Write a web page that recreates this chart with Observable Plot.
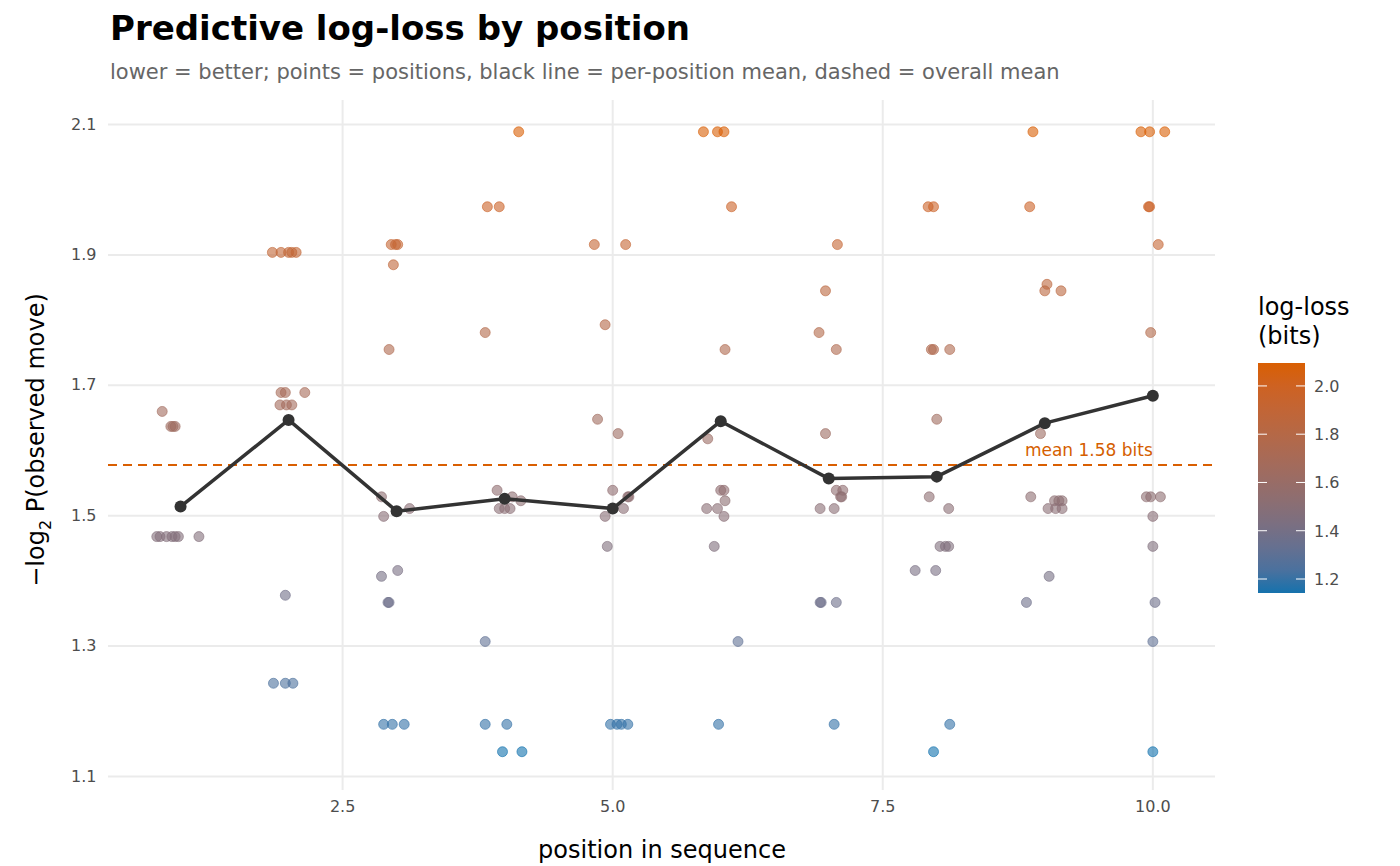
<!DOCTYPE html>
<html><head><meta charset="utf-8">
<script src="https://cdn.jsdelivr.net/npm/d3@7"></script>
<script src="https://cdn.jsdelivr.net/npm/@observablehq/plot@0.6"></script>
<style>
body{margin:0;background:#fff;font-family:"DejaVu Sans",sans-serif;width:1400px;height:866px;position:relative;overflow:hidden}
#t{position:absolute;left:110px;top:8px;font-size:34px;font-weight:bold;color:#000}
#s{position:absolute;left:110px;top:60px;font-size:21px;color:#666}
#p{position:absolute;left:0;top:90px}
#lg{position:absolute;left:1250px;top:285px}
#p svg g[aria-label="x-axis tick label"] text,#p svg g[aria-label="y-axis tick label"] text{font-size:16px}
</style></head><body>
<div id="t">Predictive log-loss by position</div>
<div id="s">lower = better; points = positions, black line = per-position mean, dashed = overall mean</div>
<div id="p"></div><div id="lg"></div>
<script>
const positions=[1,2,3,4,5,6,7,8,9,10];
const means=[1.514,1.647,1.507,1.526,1.511,1.645,1.557,1.560,1.642,1.684];
const overallMean=1.578;
const ptX=[0.83,0.91,0.93,0.95,0.78,0.81,0.87,0.92,0.95,0.98,1.17,
1.85,1.93,2.0,2.03,2.07,1.93,1.97,2.15,1.92,1.98,2.03,1.97,1.86,1.97,2.04,
2.95,2.99,3.01,2.97,2.93,2.86,2.88,3.12,2.86,3.01,2.92,2.93,2.88,2.96,3.07,
4.13,3.84,3.95,3.82,3.93,4.07,4.15,3.95,4.0,4.05,3.82,3.82,4.02,3.98,4.16,
4.83,5.12,4.93,4.86,5.05,5.0,4.93,5.14,5.15,5.1,4.95,4.98,5.04,5.08,5.14,
5.84,5.97,6.03,6.1,6.04,5.88,6.0,6.03,6.04,5.87,5.97,6.03,5.94,6.16,5.98,
7.08,6.97,6.91,7.07,6.97,7.07,7.13,7.11,7.12,6.92,7.05,6.92,6.93,7.07,7.05,
7.92,7.97,7.95,7.97,8.12,8.0,7.93,8.11,8.03,8.08,8.11,7.8,7.99,8.12,7.97,
8.89,8.86,9.02,9.0,9.15,8.96,8.87,9.09,9.13,9.16,9.03,9.1,9.16,9.04,8.83,
9.89,9.97,10.11,9.96,9.97,10.05,9.98,9.94,9.98,10.07,10.0,10.0,10.02,10.0,10.0];
const ptY=[1.66,1.637,1.637,1.637,1.468,1.468,1.468,1.468,1.468,1.468,1.468,
1.904,1.904,1.904,1.904,1.904,1.689,1.689,1.689,1.67,1.67,1.67,1.378,1.243,1.243,1.243,
1.916,1.916,1.916,1.885,1.755,1.529,1.499,1.511,1.407,1.416,1.367,1.367,1.18,1.18,1.18,
2.089,1.974,1.974,1.781,1.539,1.529,1.523,1.511,1.511,1.511,1.307,1.18,1.18,1.138,1.138,
1.916,1.916,1.793,1.648,1.626,1.539,1.499,1.529,1.529,1.511,1.453,1.18,1.18,1.18,1.18,
2.089,2.089,2.089,1.974,1.755,1.618,1.539,1.539,1.523,1.511,1.511,1.499,1.453,1.307,1.18,
1.916,1.845,1.781,1.755,1.626,1.539,1.539,1.529,1.529,1.511,1.511,1.367,1.367,1.367,1.18,
1.974,1.974,1.755,1.755,1.755,1.648,1.529,1.511,1.453,1.453,1.453,1.416,1.416,1.18,1.138,
2.089,1.974,1.855,1.845,1.845,1.626,1.529,1.523,1.523,1.523,1.511,1.511,1.511,1.407,1.367,
2.089,2.089,2.089,1.974,1.974,1.916,1.781,1.529,1.529,1.529,1.499,1.453,1.367,1.307,1.138];
const xTicks=[2.5,5,7.5,10];
const yTicks=[1.1,1.3,1.5,1.7,1.9,2.1];
const legendTicks=[1.2,1.4,1.6,1.8,2.0];

const pts=ptX.map((x,i)=>({x,y:ptY[i]}));
const line=positions.map((p,i)=>({x:p,y:means[i]}));
const cdom=[1.142,2.095];
const colorScale={type:"linear",domain:cdom,range:["#1672ad","#d95f02"],interpolate:"lab"};
const grid="#ebebeb";
const chart=Plot.plot({
 width:1400,height:776,marginLeft:108,marginRight:185,marginTop:10,marginBottom:76,
 style:{fontFamily:"DejaVu Sans, sans-serif",fontSize:"16px",color:"#4d4d4d",background:"#fff"},
 x:{domain:[0.333,10.58],ticks:xTicks,tickFormat:d=>d.toFixed(1),label:null},
 y:{domain:[1.0785,2.137],ticks:yTicks,tickFormat:d=>d.toFixed(1),label:null},
 color:colorScale,
 marks:[
  Plot.gridX(xTicks,{stroke:grid,strokeOpacity:1,strokeWidth:2}),
  Plot.gridY(yTicks,{stroke:grid,strokeOpacity:1,strokeWidth:2}),
  Plot.axisX({ticks:xTicks,tickSize:0,tickPadding:10,fontSize:16,fill:"#4d4d4d",tickFormat:d=>d.toFixed(1),label:null}),
  Plot.axisY({ticks:yTicks,tickSize:0,tickPadding:12,fontSize:16,fill:"#4d4d4d",tickFormat:d=>d.toFixed(1),label:null}),
  Plot.ruleY([overallMean],{stroke:"#d95f02",strokeWidth:2,strokeDasharray:"9,6"}),
  Plot.dot(pts,{x:"x",y:"y",fill:"y",r:5,fillOpacity:0.6,stroke:"y",strokeOpacity:0.6,strokeWidth:1}),
  Plot.line(line,{x:"x",y:"y",stroke:"#333",strokeWidth:3.5}),
  Plot.dot(line,{x:"x",y:"y",fill:"#333",r:6}),
  Plot.text([{x:10,y:1.6}],{x:"x",y:"y",text:()=>"mean 1.58 bits",textAnchor:"end",fill:"#d55e00",fontSize:17})
 ]
});
const svg=d3.select(chart);
svg.append("text").attr("x",662).attr("y",768).attr("text-anchor","middle").attr("font-size",24).attr("fill","#000").text("position in sequence");
const yt=svg.append("text").attr("transform","translate(44,350) rotate(-90)").attr("text-anchor","middle")
 .attr("font-size",24).attr("fill","#000");
yt.append("tspan").text("\u2212log");
yt.append("tspan").attr("font-size",16).attr("dy",7).text("2");
yt.append("tspan").attr("dy",-7).text(" P(observed move)");
document.getElementById("p").appendChild(chart);

const L=d3.select("#lg").append("svg").attr("width",140).attr("height",330);
L.append("text").attr("x",8).attr("y",30).attr("font-size",24).attr("fill","#000").text("log-loss");
L.append("text").attr("x",8).attr("y",59).attr("font-size",24).attr("fill","#000").text("(bits)");
const interp=d3.scaleLinear().domain(cdom).range(["#1672ad","#d95f02"]).interpolate(d3.interpolateLab);
const defs=L.append("defs").append("linearGradient").attr("id","g").attr("x1",0).attr("x2",0).attr("y1",1).attr("y2",0);
d3.range(0,1.0001,0.1).forEach(t=>defs.append("stop").attr("offset",t).attr("stop-color",interp(cdom[0]+t*(cdom[1]-cdom[0]))));
const by=d3.scaleLinear().domain(cdom).range([308,78]);
L.append("rect").attr("x",8).attr("y",78).attr("width",47).attr("height",230).attr("fill","url(#g)");
legendTicks.forEach(v=>{
 L.append("line").attr("x1",8).attr("x2",17).attr("y1",by(v)).attr("y2",by(v)).attr("stroke","#fff");
 L.append("line").attr("x1",46).attr("x2",55).attr("y1",by(v)).attr("y2",by(v)).attr("stroke","#fff");
 L.append("text").attr("x",64).attr("y",by(v)+6).attr("font-size",16).attr("fill","#4d4d4d").text(v.toFixed(1));
});
</script></body></html>
